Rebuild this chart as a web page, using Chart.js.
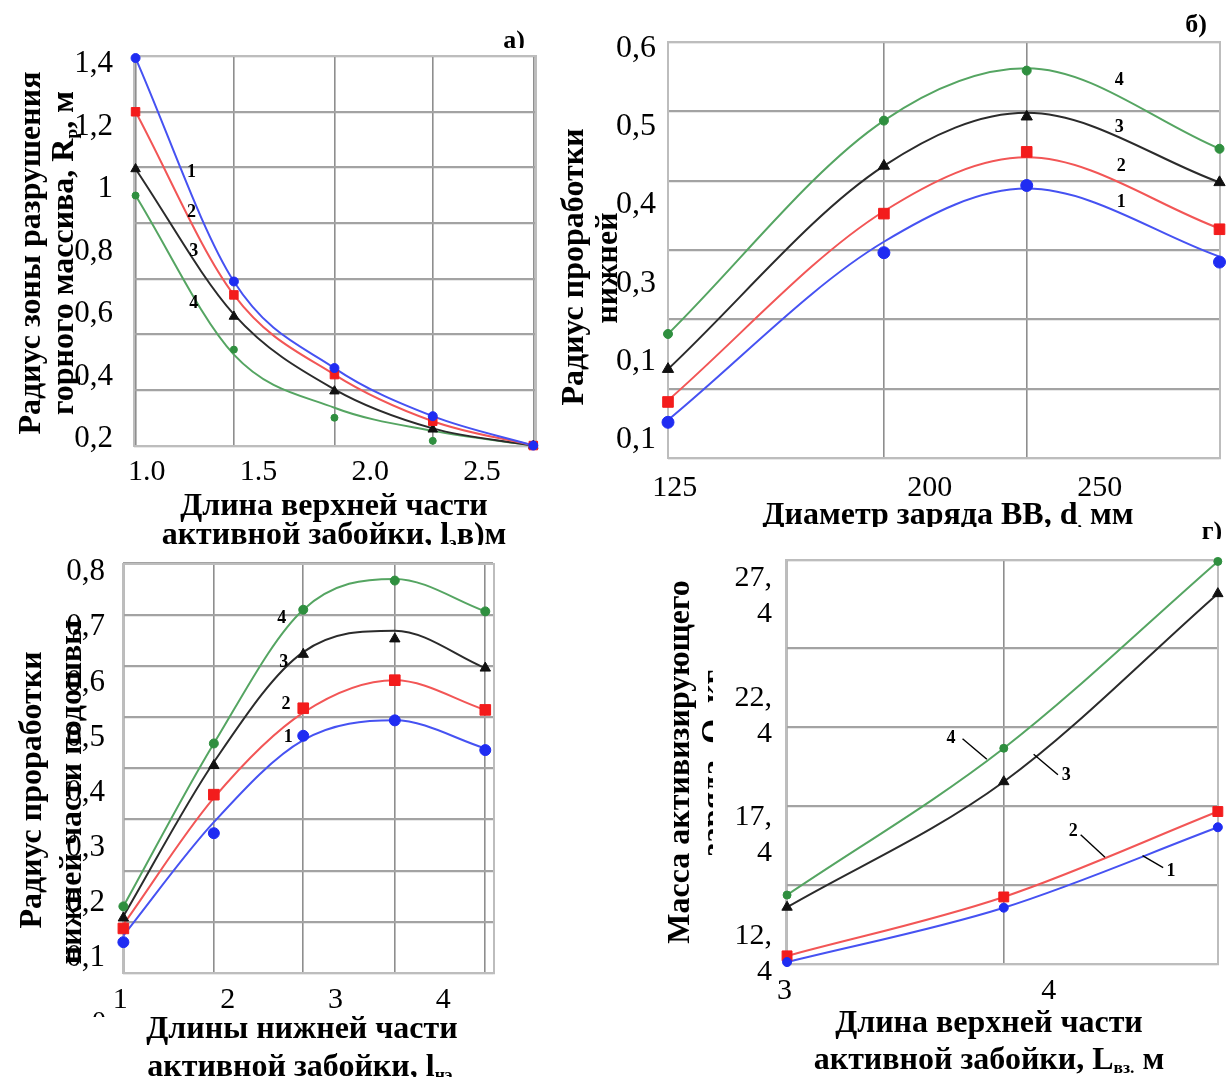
<!DOCTYPE html>
<html>
<head>
<meta charset="utf-8">
<script src="https://cdn.jsdelivr.net/npm/chart.js@4.4.1/dist/chart.umd.min.js"></script>
<style>
  body { margin:0; background:#fff; width:1228px; height:1077px; overflow:hidden; position:relative; font-family:'Liberation Serif', serif; }
  canvas { position:absolute; }
  .t { position:absolute; font-weight:bold; white-space:nowrap; color:#000; line-height:1; transform:translate(-50%,-50%); font-size:32px; }
  .r { transform:translate(-50%,-50%) rotate(-90deg); }
  .clip { position:absolute; overflow:hidden; }
  sub { font-size:0.55em; vertical-align:-0.25em; }
</style>
</head>
<body>
<canvas id="chA"></canvas>
<canvas id="chB"></canvas>
<canvas id="chC"></canvas>
<canvas id="chD"></canvas>

<!-- подписи осей -->
<div class="clip" style="left:480px;top:28px;width:60px;height:20px"><div class="t" style="left:34px;top:12px;font-size:26px">а)</div></div>
<div class="t r" style="left:29px;top:253px">Радиус зоны разрушения</div>
<div class="t r" style="left:63px;top:253px">горного массива, R<sub>р</sub>, м</div>
<div class="t" style="left:334px;top:504px">Длина верхней части</div>
<div class="clip" style="left:0;top:515px;width:560px;height:30px"><div class="t" style="left:334px;top:19px">активной забойки, l<sub>э</sub>в)м</div></div>

<div class="clip" style="left:1160px;top:14px;width:68px;height:30px"><div class="t" style="left:36px;top:10px;font-size:26px">б)</div></div>
<div class="t r" style="left:572px;top:267px">Радиус проработки</div>
<div class="t r" style="left:606px;top:268px">нижней</div>
<div class="clip" style="left:700px;top:490px;width:500px;height:37px"><div class="t" style="left:248px;top:24px">Диаметр заряда ВВ, d<sub>,</sub> мм</div></div>

<div class="t r" style="left:30px;top:790px">Радиус проработки</div>
<div class="t r" style="left:70px;top:792px">нижней части подошвы</div>
<div class="clip" style="left:80px;top:1008px;width:40px;height:9px"><div style="position:absolute;left:12px;top:-1px;font-size:28px;line-height:1">0</div></div>
<div class="t" style="left:302px;top:1027px">Длины нижней части</div>
<div class="t" style="left:302px;top:1066px">активной забойки, l<sub>нэ.</sub></div>

<div class="clip" style="left:1190px;top:516px;width:38px;height:23px"><div class="t" style="left:22px;top:15px;font-size:26px">г)</div></div>
<div class="t r" style="left:678px;top:762px">Масса активизирующего</div>
<div class="clip" style="left:690px;top:640px;width:23px;height:240px"><div class="t r" style="left:22px;top:123px">заряда, Q, кг</div></div>
<div class="t" style="left:989px;top:1021px">Длина верхней части</div>
<div class="t" style="left:989px;top:1059px">активной забойки, L<sub>вз.</sub> м</div>

<script>
// ---------- а) радиус зоны разрушения, R_p ----------
const xsA = [0.95, 1.39, 1.84, 2.28, 2.73]
const a1Mark = [1.42, 0.705, 0.428, 0.274, 0.18]
const a2Mark = [1.248, 0.662, 0.407, 0.258, 0.18]
const a3Mark = [1.065, 0.593, 0.354, 0.232, 0.18]
const a4Mark = [0.98, 0.487, 0.269, 0.195, 0.18]
const a1Fit = [1.42, 0.705, 0.428, 0.274, 0.18]
const a2Fit = [1.248, 0.662, 0.407, 0.258, 0.18]
const a3Fit = [1.065, 0.6, 0.36, 0.235, 0.18]
const a4Fit = [0.98, 0.471, 0.301, 0.227, 0.18]
const aTickX = [1.0, 1.5, 2.0, 2.5]
const aLabelX = ['1.0', '1.5', '2.0', '2.5']
const aTickY = [0.2, 0.4, 0.6, 0.8, 1.0, 1.2, 1.4]
const aLabelY = ['0,2', '0,4', '0,6', '0,8', '1', '1,2', '1,4']
const aNumText = ['1', '2', '3', '4']
const aNumX = [1.2, 1.2, 1.21, 1.21]
const aNumY = [1.055, 0.927, 0.80, 0.635]

// ---------- б) радиус проработки от диаметра заряда ----------
const xsB = [123, 186.5, 228.5, 285.2]
const b1Mark = [0.122, 0.339, 0.425, 0.327]
const b2Mark = [0.148, 0.389, 0.468, 0.369]
const b3Mark = [0.19, 0.45, 0.513, 0.429]
const b4Mark = [0.235, 0.508, 0.572, 0.472]
const b1Fit = [0.125, 0.353, 0.421, 0.334]
const b2Fit = [0.15, 0.392, 0.461, 0.37]
const b3Fit = [0.19, 0.45, 0.518, 0.429]
const b4Fit = [0.235, 0.508, 0.575, 0.472]
const bTickX = [125, 200, 250]
const bLabelX = ['125', '200', '250']
const bTickY = [0.1, 0.2, 0.3, 0.4, 0.5, 0.6]
const bLabelY = ['0,1', '0,1', '0,3', '0,4', '0,5', '0,6']
const bNumText = ['1', '2', '3', '4']
const bNumX = [256.3, 256.3, 255.7, 255.7]
const bNumY = [0.403, 0.449, 0.499, 0.559]

// ---------- в) радиус проработки от длины нижней части ----------
const xsC = [1.03, 1.87, 2.70, 3.55, 4.39]
const c1Mark = [0.128, 0.326, 0.503, 0.531, 0.477]
const c2Mark = [0.153, 0.396, 0.553, 0.604, 0.55]
const c3Mark = [0.172, 0.449, 0.651, 0.679, 0.626]
const c4Mark = [0.193, 0.489, 0.732, 0.785, 0.729]
const c1Fit = [0.14, 0.346, 0.495, 0.531, 0.48]
const c2Fit = [0.16, 0.39, 0.545, 0.604, 0.55]
const c3Fit = [0.175, 0.455, 0.655, 0.694, 0.626]
const c4Fit = [0.193, 0.489, 0.732, 0.788, 0.729]
const cTickX = [1, 2, 3, 4]
const cLabelX = ['1', '2', '3', '4']
const cTickY = [0.1, 0.2, 0.3, 0.4, 0.5, 0.6, 0.7, 0.8]
const cLabelY = ['0,1', '0,2', '0,3', '0,4', '0,5', '0,6', '0,7', '0,8']
const cNumText = ['1', '2', '3', '4']
const cNumX = [2.56, 2.54, 2.52, 2.50]
const cNumY = [0.50, 0.561, 0.636, 0.716]

// ---------- г) масса активизирующего заряда ----------
const xsD = [3.01, 3.83, 4.64]
const d1Mark = [12.08, 14.36, 17.73]
const d2Mark = [12.34, 14.81, 18.39]
const d3Mark = [14.38, 19.64, 27.52]
const d4Mark = [14.89, 21.04, 28.87]
const dTickX = [3, 4]
const dLabelX = ['3', '4']
const dTickY = [12.4, 17.4, 22.4, 27.4]
const dLabelY = [['12,', '4'], ['17,', '4'], ['22,', '4'], ['27,', '4']]
const dNumText = ['1', '2', '3', '4']
const dNumX = [4.463, 4.093, 4.066, 3.63]
const dNumY = [15.9, 17.56, 19.89, 21.44]
// выноски: x1, y1, x2, y2
const dLeaders = [[4.355, 16.54, 4.433, 16.04], [4.121, 17.42, 4.213, 16.47], [3.943, 20.79, 4.035, 19.93], [3.674, 21.44, 3.766, 20.58]]

const look = [
  { color: '#1f2cf2', line: '#4652f2', style: 'circle' },   // 1
  { color: '#f31c1c', line: '#f25656', style: 'rect' },     // 2
  { color: '#111111', line: '#2b2b2b', style: 'triangle' }, // 3
  { color: '#2f8f3f', line: '#55a562', style: 'circle' }    // 4
]
const gridColor = '#a3a3a3'
const axisColor = '#bdbdbd'

function labelsPlugin(p) {
  return {
    id: 'curveNums',
    afterDatasetsDraw(chart) {
      const { ctx, scales: { x, y } } = chart
      ctx.save()
      ctx.fillStyle = '#000'; ctx.strokeStyle = '#000'; ctx.lineWidth = 1.4
      ctx.font = 'bold 18px "Liberation Serif"'
      ctx.textAlign = 'center'; ctx.textBaseline = 'middle'
      p.numText.forEach((t, i) => ctx.fillText(t, x.getPixelForValue(p.numX[i]), y.getPixelForValue(p.numY[i])))
      ;(p.leaders || []).forEach(l => {
        ctx.beginPath()
        ctx.moveTo(x.getPixelForValue(l[0]), y.getPixelForValue(l[1]))
        ctx.lineTo(x.getPixelForValue(l[2]), y.getPixelForValue(l[3]))
        ctx.stroke()
      })
      ctx.restore()
    }
  }
}

function buildPanel(id, box, area, p) {
  const cv = document.getElementById(id)
  Object.assign(cv.style, { left: box[0] + 'px', top: box[1] + 'px', width: box[2] + 'px', height: box[3] + 'px' })
  cv.width = box[2]; cv.height = box[3]
  const datasets = []
  p.fits.forEach((fit, i) => {
    datasets.push({ data: p.xs.map((x, j) => ({ x, y: fit[j] })), showLine: true, borderColor: look[i].line, borderWidth: 2,
      pointRadius: 0, cubicInterpolationMode: 'monotone', clip: false, order: 2 })
  })
  p.marks.forEach((mark, i) => {
    datasets.push({ data: p.xs.map((x, j) => ({ x, y: mark[j] })), showLine: false, pointStyle: look[i].style,
      pointRadius: p.radii[i], backgroundColor: look[i].color, borderColor: look[i].color, borderWidth: 1, clip: false, order: 1 })
  })
  new Chart(cv, {
    type: 'scatter',
    data: { datasets },
    options: {
      responsive: false, animation: false, events: [],
      layout: { padding: { left: 0, bottom: 0, top: area[1] - box[1], right: box[0] + box[2] - area[2] } },
      plugins: { legend: { display: false }, tooltip: { enabled: false } },
      scales: {
        x: { type: 'linear', position: 'bottom', min: p.xMin, max: p.xMax,
          afterBuildTicks: s => { s.ticks = p.tickX.map(v => ({ value: v })) },
          ticks: { callback: (v, i) => p.labelX[i], autoSkip: false, maxRotation: 0, color: '#000', padding: p.xPad,
            font: { family: 'Liberation Serif', size: 30, lineHeight: 1 } },
          grid: { display: false, drawTicks: false }, border: { color: axisColor, width: 2 },
          afterFit: s => { s.height = box[1] + box[3] - area[3] } },
        y: { type: 'linear', position: 'left', min: p.yMin, max: p.yMax,
          afterBuildTicks: s => { s.ticks = p.tickY.map(v => ({ value: v })) },
          ticks: { callback: (v, i) => p.labelY[i], autoSkip: false, color: '#000', padding: p.yPad, font: p.yFont },
          grid: { display: false, drawTicks: false }, border: { color: axisColor, width: 2 },
          afterFit: s => { s.width = area[0] - box[0] } },
        xg: { type: 'linear', position: 'top', min: p.xMin, max: p.xMax,
          afterBuildTicks: s => { s.ticks = [p.xMin, ...p.xs, p.xMax].map(v => ({ value: v })) },
          ticks: { display: false }, grid: { color: '#8e8e8e', lineWidth: 1.6, drawTicks: false },
          border: { color: axisColor, width: 2 }, afterFit: s => { s.height = 0 } },
        yg: { type: 'linear', position: 'right', min: 0, max: p.gridMax,
          ticks: { display: false, stepSize: 1 }, grid: { color: gridColor, lineWidth: 2.2, drawTicks: false },
          border: { color: axisColor, width: 2 }, afterFit: s => { s.width = 0 } }
      }
    },
    plugins: [labelsPlugin(p)]
  })
}

buildPanel('chA', [0, 0, 560, 520], [134, 56, 536, 446], {
  xs: xsA, marks: [a1Mark, a2Mark, a3Mark, a4Mark], fits: [a1Fit, a2Fit, a3Fit, a4Fit], radii: [4.5, 6, 5.5, 3.5],
  xMin: 0.943, xMax: 2.742, yMin: 0.1786, yMax: 1.4265, gridMax: 7,
  tickX: aTickX, labelX: aLabelX, tickY: aTickY, labelY: aLabelY, xPad: 11, yPad: 21,
  yFont: { family: 'Liberation Serif', size: 31, lineHeight: 1 },
  numText: aNumText, numX: aNumX, numY: aNumY
})
buildPanel('chB', [560, 0, 668, 530], [668, 42, 1220, 458], {
  xs: xsB, marks: [b1Mark, b2Mark, b3Mark, b4Mark], fits: [b1Fit, b2Fit, b3Fit, b4Fit], radii: [6, 7.5, 6.5, 4.5],
  xMin: 123, xMax: 285.2, yMin: 0.0763, yMax: 0.6086, gridMax: 6,
  tickX: bTickX, labelX: bLabelX, tickY: bTickY, labelY: bLabelY, xPad: 15.5, yPad: 12,
  yFont: { family: 'Liberation Serif', size: 32, lineHeight: 1 },
  numText: bNumText, numX: bNumX, numY: bNumY
})
buildPanel('chC', [0, 530, 560, 547], [123, 557, 494, 973], {
  xs: xsC, marks: [c1Mark, c2Mark, c3Mark, c4Mark], fits: [c1Fit, c2Fit, c3Fit, c4Fit], radii: [5.5, 7.5, 6, 4.5],
  xMin: 1.0265, xMax: 4.471, yMin: 0.072, yMax: 0.816, gridMax: 8,
  tickX: cTickX, labelX: cLabelX, tickY: cTickY, labelY: cLabelY, xPad: 12, yPad: 18,
  yFont: { family: 'Liberation Serif', size: 31, lineHeight: 1 },
  numText: cNumText, numX: cNumX, numY: cNumY
})
buildPanel('chD', [640, 510, 588, 567], [786, 539, 1218, 964], {
  xs: xsD, marks: [d1Mark, d2Mark, d3Mark, d4Mark], fits: [d1Mark, d2Mark, d3Mark, d4Mark], radii: [4.5, 7, 6, 4],
  xMin: 3.006, xMax: 4.6406, yMin: 12.0, yMax: 28.93, gridMax: 5.12,
  tickX: dTickX, labelX: dLabelX, tickY: dTickY, labelY: dLabelY, xPad: 12, yPad: 14,
  yFont: { family: 'Liberation Serif', size: 30, lineHeight: 1.2 },
  numText: dNumText, numX: dNumX, numY: dNumY, leaders: dLeaders
})
</script>
</body>
</html>
